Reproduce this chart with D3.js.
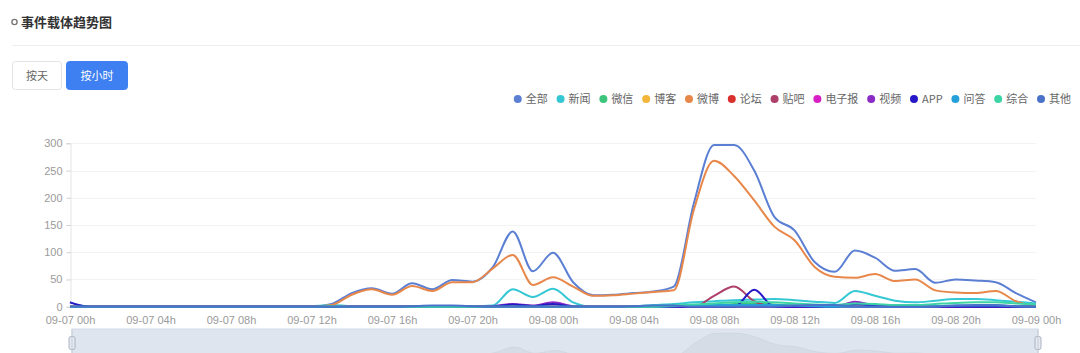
<!DOCTYPE html>
<html>
<head>
<meta charset="utf-8">
<script src="https://cdn.jsdelivr.net/npm/d3@7/dist/d3.min.js"></script>
<style>
body { margin: 0; background: #fff; }
svg { display: block; font-family: "Microsoft YaHei", "Noto Sans CJK SC", sans-serif; }
</style>
</head>
<body>
<script>
// hourly time labels, 09-07 00h .. 09-09 00h
var hours = ["09-07 00h","09-07 01h","09-07 02h","09-07 03h","09-07 04h","09-07 05h","09-07 06h","09-07 07h",
  "09-07 08h","09-07 09h","09-07 10h","09-07 11h","09-07 12h","09-07 13h","09-07 14h","09-07 15h",
  "09-07 16h","09-07 17h","09-07 18h","09-07 19h","09-07 20h","09-07 21h","09-07 22h","09-07 23h",
  "09-08 00h","09-08 01h","09-08 02h","09-08 03h","09-08 04h","09-08 05h","09-08 06h","09-08 07h",
  "09-08 08h","09-08 09h","09-08 10h","09-08 11h","09-08 12h","09-08 13h","09-08 14h","09-08 15h",
  "09-08 16h","09-08 17h","09-08 18h","09-08 19h","09-08 20h","09-08 21h","09-08 22h","09-08 23h",
  "09-09 00h"];
var yTicks = [0, 50, 100, 150, 200, 250, 300];

var names  = ["全部","新闻","微信","博客","微博","论坛","贴吧","电子报","视频","APP","问答","综合","其他"];
var colors = ["#5b7fd3","#35c8d4","#3cc47c","#f3b53a","#e8874a","#d9302e","#ad3f69","#d81fc4","#8b2bc6","#2618c6","#26a0d8","#3dd4a5","#4a72c8"];

var quanbu  = [8,0,0,0,0,0,0,0,0,0,0,0,0,5,25,34,24,43,32,49,46,72,138,65,99,45,21,22,25,28,37,190,297,297,250,165,140,82,64,103,90,66,69,44,50,48,45,25,8];
var xinwen  = [0,0,0,0,0,0,0,0,0,0,0,0,1,3,1,1,1,1,1,1,1,2,32,18,33,8,0,0,1,3,5,8,10,12,13,14,12,9,7,29,20,11,8,11,14,14,12,9,6];
var weixin  = [0,0,0,0,0,0,0,0,0,0,0,0,0,0,0,0,0,0,0,0,0,0,0,0,0,0,0,0,0,0,0,0,2,5,6,4,2,0,0,0,0,0,0,0,0,0,0,0,0];
var boke    = [0,0,0,0,0,0,0,0,0,0,0,0,0,0,0,0,0,0,0,0,0,0,0,0,0,0,0,0,0,0,0,0,0,0,0,0,0,0,0,0,0,0,0,0,0,0,0,0,0];
var weibo   = [0,0,0,0,0,0,0,0,0,0,0,0,0,3,22,32,22,38,29,45,45,70,95,40,54,37,20,21,24,27,30,178,268,240,195,147,122,73,55,53,60,47,50,30,26,25,29,10,0];
var luntan  = [0,0,0,0,0,0,0,0,0,0,0,0,0,0,0,0,0,0,0,0,0,0,0,0,0,0,0,0,0,0,0,0,0,0,0,0,0,0,0,0,0,0,0,0,0,0,0,0,0];
var tieba   = [0,0,0,0,0,0,0,0,0,0,0,0,0,0,0,0,0,0,0,0,0,0,0,0,0,0,0,0,0,0,0,0,20,37,10,0,0,0,0,0,0,0,0,0,0,0,0,0,0];
var dianzi  = [0,0,0,0,0,0,0,0,0,0,0,0,0,0,0,0,0,0,0,0,0,0,0,0,0,0,0,0,0,0,0,0,0,0,0,0,0,0,0,0,0,0,0,0,0,0,0,0,0];
var shipin  = [0,0,0,0,0,0,0,0,0,0,0,0,0,0,0,0,0,0,0,0,0,1,5,2,8,1,0,0,0,0,0,0,0,0,0,0,0,0,0,9,2,0,0,0,0,0,0,0,0];
var app     = [8,0,0,0,0,0,0,0,0,0,0,0,0,0,0,0,0,0,0,0,0,0,4,1,5,0,0,0,0,0,0,0,0,0,31,0,0,0,0,5,1,0,0,0,0,0,0,0,0];
var wenda   = [0,0,0,0,0,0,0,0,0,0,0,0,0,0,0,0,0,0,0,0,0,0,0,0,0,0,0,0,0,0,1,2,3,3,3,3,2,1,0,0,0,0,0,1,2,2,2,1,0];
var zonghe  = [0,0,0,0,0,0,0,0,0,0,0,0,0,1,0,0,0,0,0,0,0,0,0,0,0,0,0,0,0,0,2,4,6,8,9,8,6,4,3,6,5,3,3,5,7,8,8,6,4];
var qita    = [0,0,0,0,0,0,0,0,0,0,0,0,0,0,0,0,0,1,2,2,1,0,0,0,0,0,0,0,1,2,2,0,0,0,0,0,2,3,3,1,0,0,0,0,2,3,3,1,0];

var series = [quanbu, xinwen, weixin, boke, weibo, luntan, tieba, dianzi, shipin, app, wenda, zonghe, qita];

var width = 1080, height = 353;
var svg = d3.select("body").append("svg")
    .attr("width", width)
    .attr("height", height);

// header
svg.append("circle").attr("cx", 14.5).attr("cy", 22).attr("r", 2.6)
    .attr("fill", "#fff").attr("stroke", "#777").attr("stroke-width", 1.4);
svg.append("text").attr("x", 21).attr("y", 26.5)
    .attr("font-size", 13).attr("font-weight", "bold").attr("fill", "#333")
    .text("事件载体趋势图");
svg.append("line").attr("x1", 12).attr("x2", width).attr("y1", 45.5).attr("y2", 45.5)
    .attr("stroke", "#eeeeee");

// buttons
var btns = [{t: "按天", x: 12, w: 49, on: false}, {t: "按小时", x: 66, w: 61, on: true}];
btns.forEach(function(b) {
    svg.append("rect").attr("x", b.x + 0.5).attr("y", 61.5).attr("width", b.w).attr("height", 28).attr("rx", 3)
        .attr("fill", b.on ? "#3e80f1" : "#fff").attr("stroke", b.on ? "#3e80f1" : "#e3e3e3");
    svg.append("text").attr("x", b.x + b.w / 2 + 0.5).attr("y", 79.5).attr("text-anchor", "middle")
        .attr("font-size", 11).attr("fill", b.on ? "#fff" : "#666").text(b.t);
});

// legend, right aligned
var gap = 12.8;
var legend = svg.append("g");
var lx = 0;
names.forEach(function(n, i) {
    var g = legend.append("g").attr("transform", "translate(" + lx + ",0)");
    g.append("circle").attr("cx", 0).attr("cy", 0).attr("r", 4).attr("fill", colors[i]);
    var t = g.append("text").attr("x", 8).attr("y", 4).attr("font-size", 11).attr("fill", "#666").text(n);
    lx += 8 + t.node().getComputedTextLength() + gap;
});
var legendW = lx - gap;
legend.attr("transform", "translate(" + (1071 - legendW) + ",99)");

// scales
var x = d3.scalePoint().domain(hours).range([70, 1036]);
var y = d3.scaleLinear().domain([0, 300]).range([306.7, 143.3]);

var g = svg.append("g");

// grid
g.selectAll(".grid").data(yTicks.slice(1)).enter().append("line")
    .attr("x1", 70).attr("x2", 1036)
    .attr("y1", d => Math.round(y(d)) + 0.5).attr("y2", d => Math.round(y(d)) + 0.5)
    .attr("stroke", "#f3f3f3");

// y axis
g.append("g").attr("transform", "translate(70.5,0)")
    .call(d3.axisLeft(y).tickValues(yTicks).tickSize(4).tickPadding(4))
    .call(a => a.select(".domain").attr("stroke", "#e4e4e4"))
    .call(a => a.selectAll(".tick line").attr("stroke", "#cfcfcf"))
    .call(a => a.selectAll("text").attr("fill", "#9a9a9a").attr("font-size", 11)
        .style("font-family", "'Liberation Sans', Arial, sans-serif"));

// x axis
g.append("g").attr("transform", "translate(0,307)")
    .call(d3.axisBottom(x).tickValues(hours.filter((d, i) => i % 4 == 0)).tickSize(0).tickPadding(9))
    .call(a => a.select(".domain").attr("stroke", "#e4e4e4"))
    .call(a => a.selectAll("text").attr("fill", "#9a9a9a").attr("font-size", 11)
        .style("font-family", "'Liberation Sans', Arial, sans-serif"));

// lines
var line = d3.line()
    .x((d, i) => x(hours[i]))
    .y(d => y(d))
    .curve(d3.curveMonotoneX);

series.forEach(function(s, i) {
    g.append("path").datum(s)
        .attr("d", line)
        .attr("fill", "none")
        .attr("stroke", colors[i])
        .attr("stroke-width", 2)
        .attr("stroke-linejoin", "round");
});

// data zoom slider
var sy = d3.scaleLinear().domain([0, 300]).range([359, 333]);
var sx = d3.scalePoint().domain(hours).range([72, 1038]);
svg.append("rect").attr("x", 72).attr("y", 329).attr("width", 966).attr("height", 30)
    .attr("fill", "#dfe5ee").attr("stroke", "#d4dce8");
svg.append("path").datum(quanbu)
    .attr("d", d3.area().x((d, i) => sx(hours[i])).y0(359).y1(d => sy(d)).curve(d3.curveMonotoneX))
    .attr("fill", "#d5dce6").attr("stroke", "#cdd4df").attr("stroke-width", 0.8);
[72, 1038].forEach(function(hx) {
    svg.append("rect").attr("x", hx - 3).attr("y", 336.5).attr("width", 6).attr("height", 13).attr("rx", 2)
        .attr("fill", "#e6e9ef").attr("stroke", "#aab3c3");
    svg.append("line").attr("x1", hx).attr("x2", hx).attr("y1", 329).attr("y2", 353)
        .attr("stroke", "#c4ccd8");
});
</script>
</body>
</html>
